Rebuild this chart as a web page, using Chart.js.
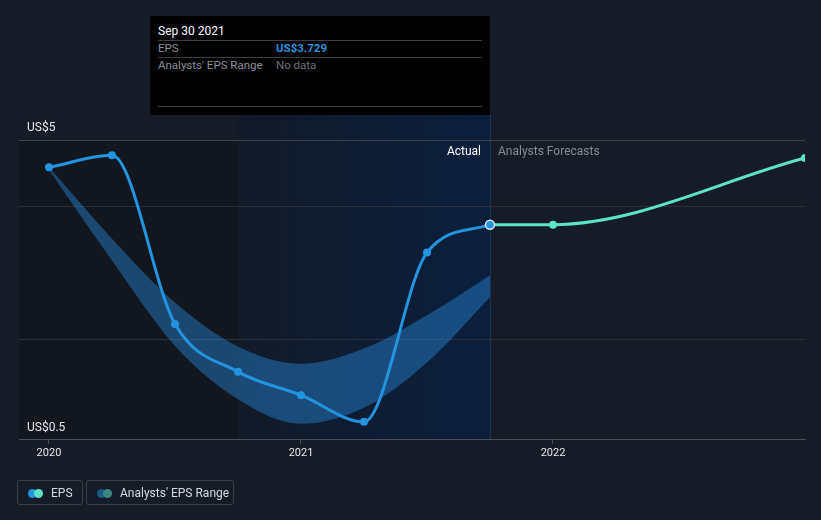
<!DOCTYPE html>
<html>
<head>
<meta charset="utf-8">
<script src="https://cdn.jsdelivr.net/npm/chart.js@4.4.1/dist/chart.umd.min.js"></script>
<style>
  body { margin: 0; background: #161c27; font-family: Roboto, "Noto Sans", sans-serif; }
  #wrap { position: relative; width: 821px; height: 520px; overflow: hidden; }
  #chart { position: absolute; left: 0; top: 0; }
  .tip { position: absolute; left: 150px; top: 16px; width: 340px; height: 99px; background: #000; font-size: 11.5px; }
  .tip .title { position: absolute; left: 8px; top: 8px; color: #fff; font-size: 12px; }
  .tip .rule { position: absolute; left: 8px; width: 324px; height: 1px; background: #3a3d42; }
  .tip .lab { position: absolute; left: 8px; color: #8b9099; }
  .tip .val { position: absolute; left: 126px; }
  .legend .item { position: absolute; top: 480px; height: 25px; border: 1px solid #3b404a; border-radius: 3px;
    box-sizing: border-box; color: #d7dae0; font-size: 12px; line-height: 24px; }
  .legend .dots { position: absolute; top: 8px; width: 16px; height: 9px; }
  .legend .dots i { position: absolute; top: 0; width: 9px; height: 9px; border-radius: 50%; }
  .legend .txt { position: absolute; top: 0; }
</style>
</head>
<body>
<div id="wrap">
  <canvas id="chart" width="821" height="520"></canvas>

  <div class="tip">
    <div class="title">Sep 30 2021</div>
    <div class="rule" style="top:24px"></div>
    <div class="lab" style="top:25px">EPS</div>
    <div class="val" style="top:25px;color:#2394df;font-weight:bold">US$3.729</div>
    <div class="rule" style="top:41px"></div>
    <div class="lab" style="top:42px">Analysts' EPS Range</div>
    <div class="val" style="top:42px;color:#6d727b">No data</div>
    <div class="rule" style="top:90px"></div>
  </div>

  <div class="legend">
    <div class="item" style="left:17px;width:66px">
      <span class="dots" style="left:10px"><i style="left:0;background:#2394df"></i><i style="left:6px;background:#5de4c7"></i></span>
      <span class="txt" style="left:33px">EPS</span>
    </div>
    <div class="item" style="left:86px;width:148px">
      <span class="dots" style="left:10px"><i style="left:0;background:#1c5a8a"></i><i style="left:6px;background:#3e8884"></i></span>
      <span class="txt" style="left:33px">Analysts' EPS Range</span>
    </div>
  </div>
</div>

<script>
// EPS, quarter ends as decimal years
const actualX = [2020.0, 2020.25, 2020.5, 2020.75, 2021.0, 2021.25, 2021.5, 2021.75];
const actualEps = [4.59, 4.77, 2.24, 1.52, 1.17, 0.77, 3.31, 3.729];

const forecastX = [2021.75, 2022.0, 2023.0];
const forecastEps = [3.729, 3.73, 4.73];

// analysts' range at each past quarter
const rangeX = [2020.0, 2020.25, 2020.5, 2020.75, 2021.0, 2021.25, 2021.5, 2021.75];
const rangeHigh = [4.59, 3.52, 2.56, 1.90, 1.64, 1.87, 2.37, 2.97];
const rangeLow = [4.55, 3.19, 1.91, 1.11, 0.74, 0.98, 1.66, 2.64];

const yTicks = [0.5, 2, 4, 5];
const yLabels = { 5: 'US$5', 0.5: 'US$0.5' };
const xTicks = [2020, 2021, 2022];

const shadeStart = 2020.75;   // start of the last-12-months band
const actualEnd = 2021.75;    // last reported quarter

const pts = (xs, ys) => xs.map((x, i) => ({ x: x, y: ys[i] }));

// shaded backgrounds + Actual / Forecast captions
const backdrop = {
  id: 'backdrop',
  beforeDraw(chart) {
    const { ctx, chartArea: a, scales: { x, y } } = chart;
    const xs = x.getPixelForValue(shadeStart);
    const xe = x.getPixelForValue(actualEnd);
    ctx.save();
    ctx.fillStyle = '#12161e';
    ctx.fillRect(a.left, y.getPixelForValue(5), xs - a.left, a.bottom - y.getPixelForValue(5));
    const g = ctx.createLinearGradient(xs, 0, xe, 0);
    g.addColorStop(0, '#111a29');
    g.addColorStop(1, '#0b1f3d');
    ctx.fillStyle = g;
    ctx.fillRect(xs, a.top, xe - xs, a.bottom - a.top);
    ctx.fillStyle = '#1e3253';
    ctx.fillRect(Math.round(xe), a.top, 1, a.bottom - a.top);
    ctx.restore();
  },
  afterDraw(chart) {
    const { ctx, scales: { x, y } } = chart;
    const xe = x.getPixelForValue(actualEnd);
    const ty = y.getPixelForValue(5) + 12;
    ctx.save();
    ctx.font = '12px Roboto';
    ctx.textBaseline = 'middle';
    ctx.textAlign = 'right';
    ctx.fillStyle = '#ffffff';
    ctx.fillText('Actual', xe - 9, ty);
    ctx.textAlign = 'left';
    ctx.fillStyle = '#868b94';
    ctx.fillText('Analysts Forecasts', xe + 8, ty);
    ctx.restore();
  }
};

new Chart(document.getElementById('chart'), {
  type: 'line',
  data: {
    datasets: [
      {
        label: 'EPS',
        data: pts(actualX, actualEps),
        borderColor: '#2394df',
        backgroundColor: '#2394df',
        borderWidth: 3,
        pointRadius: actualX.map((_, i) => i === actualX.length - 1 ? 4.5 : 4),
        pointBorderColor: actualX.map((_, i) => i === actualX.length - 1 ? '#dbe6f2' : '#2394df'),
        pointBorderWidth: actualX.map((_, i) => i === actualX.length - 1 ? 1.5 : 0),
        cubicInterpolationMode: 'monotone',
        fill: false,
        order: 0
      },
      {
        label: 'EPS forecast',
        data: pts(forecastX, forecastEps),
        borderColor: '#5de4c7',
        backgroundColor: '#5de4c7',
        borderWidth: 3,
        pointRadius: forecastX.map((_, i) => i === 0 ? 0 : 4),
        pointBorderWidth: 0,
        cubicInterpolationMode: 'monotone',
        fill: false,
        order: 1
      },
      {
        label: "Analysts' EPS Range",
        data: pts(rangeX, rangeHigh),
        borderWidth: 0,
        borderColor: 'rgba(0,0,0,0)',
        backgroundColor: 'rgba(41,143,229,0.42)',
        pointRadius: 0,
        cubicInterpolationMode: 'monotone',
        fill: '+1',
        order: 2
      },
      {
        label: 'range low',
        data: pts(rangeX, rangeLow),
        borderWidth: 0,
        borderColor: 'rgba(0,0,0,0)',
        pointRadius: 0,
        cubicInterpolationMode: 'monotone',
        fill: false,
        order: 3
      }
    ]
  },
  options: {
    responsive: false,
    animation: false,
    layout: { padding: { left: 3, right: 16, top: 115, bottom: 57 } },
    plugins: { legend: { display: false }, tooltip: { enabled: false } },
    scales: {
      x: {
        type: 'linear',
        min: 2019.881,
        max: 2023,
        afterBuildTicks: s => { s.ticks = xTicks.map(v => ({ value: v })); },
        grid: { drawOnChartArea: false, drawTicks: true, tickLength: 4, color: '#4a4f59' },
        border: { color: '#4a4f59' },
        ticks: { color: '#e8e8e8', font: { family: 'Roboto', size: 11 }, padding: 3, callback: v => String(v), maxRotation: 0 }
      },
      y: {
        min: 0.5,
        max: 5.376,
        afterBuildTicks: s => { s.ticks = yTicks.map(v => ({ value: v })); },
        border: { display: false },
        grid: {
          drawTicks: false,
          color: c => c.tick.value === 5 ? '#3d424d' : (c.tick.value === 0.5 ? 'rgba(0,0,0,0)' : '#2a2f3a')
        },
        ticks: {
          mirror: true,
          padding: 8,
          labelOffset: -12,
          color: '#e8e8e8',
          font: { family: 'Roboto', size: 12 },
          callback: v => yLabels[v] || ''
        }
      }
    }
  },
  plugins: [backdrop]
});
</script>
</body>
</html>
